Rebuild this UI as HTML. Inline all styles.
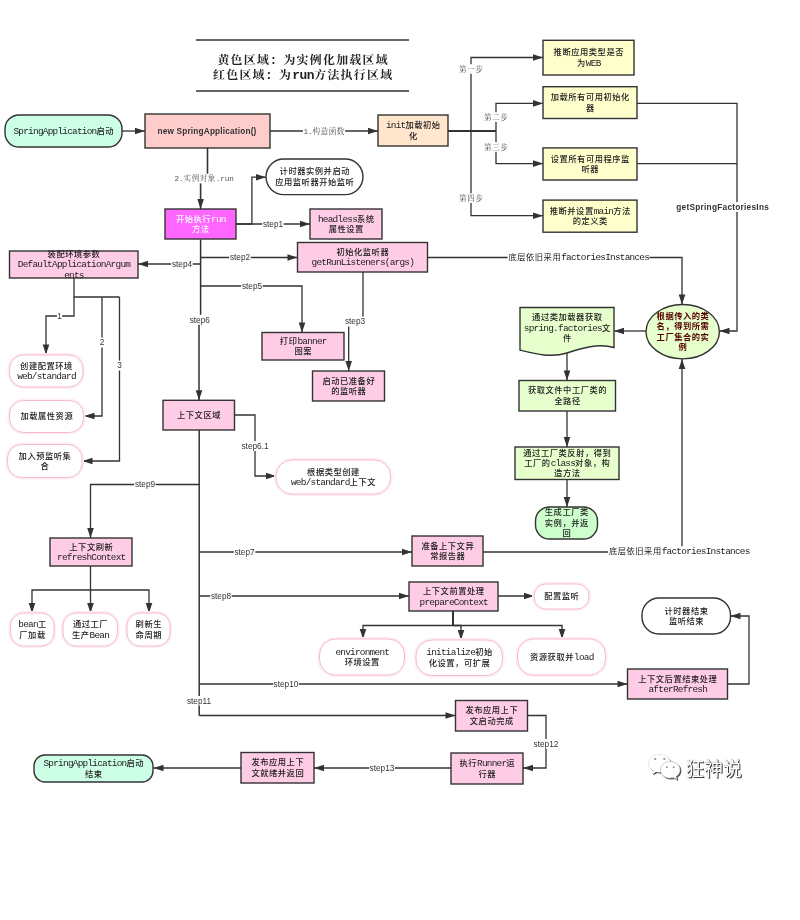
<!DOCTYPE html>
<html lang="zh-CN"><head><meta charset="utf-8"><title>SpringApplication 启动流程</title>
<style>html,body{margin:0;padding:0;background:#fff}svg{display:block;will-change:transform}</style></head>
<body>
<svg width="800" height="920" viewBox="0 0 800 920">
<rect width="800" height="920" fill="#fff"/>
<line x1="196" y1="40" x2="409" y2="40" stroke="#333" stroke-width="1.3"/>
<line x1="196" y1="91" x2="409" y2="91" stroke="#333" stroke-width="1.3"/>
<text x="303.2" y="64.0" text-anchor="middle" font-family='"Liberation Serif", "Noto Serif CJK SC", serif' font-size="11.88" font-weight="700" fill="#222" xml:space="preserve"><tspan letter-spacing="1.32">黄色区域：为实例化加载区域</tspan></text>
<text x="303.2" y="79.0" text-anchor="middle" font-family='"Liberation Serif", "Noto Serif CJK SC", serif' font-size="11.88" font-weight="700" fill="#222" xml:space="preserve"><tspan letter-spacing="1.32">红色区域：为</tspan><tspan font-family='"Liberation Mono", monospace' font-weight="700" font-size="12.94" letter-spacing="-0.42">run</tspan><tspan letter-spacing="1.32">方法执行区域</tspan></text>
<polyline points="199.2,430 199.2,715.5" fill="none" stroke="#333" stroke-width="1.5"/>
<polyline points="122,131 145,131" fill="none" stroke="#333" stroke-width="1.3"/>
<polygon points="145.0,131.0 135.0,134.3 135.0,127.7" fill="#333"/>
<polyline points="270,131 378,131" fill="none" stroke="#333" stroke-width="1.3"/>
<polygon points="378.0,131.0 368.0,134.3 368.0,127.7" fill="#333"/>
<polyline points="207.5,148 207.5,178 200.6,178 200.6,209" fill="none" stroke="#333" stroke-width="1.6"/>
<polygon points="200.6,209.0 197.3,199.0 203.9,199.0" fill="#333"/>
<polyline points="448,131 496,131" fill="none" stroke="#333" stroke-width="2"/>
<polyline points="471,131 471,57.5 543,57.5" fill="none" stroke="#333" stroke-width="1.3"/>
<polygon points="543.0,57.5 533.0,60.8 533.0,54.2" fill="#333"/>
<polyline points="496,131 496,103.4 543,103.4" fill="none" stroke="#333" stroke-width="1.3"/>
<polygon points="543.0,103.4 533.0,106.7 533.0,100.1" fill="#333"/>
<polyline points="496,131 496,163.6 543,163.6" fill="none" stroke="#333" stroke-width="1.3"/>
<polygon points="543.0,163.6 533.0,166.9 533.0,160.3" fill="#333"/>
<polyline points="471,131 471,215.7 543,215.7" fill="none" stroke="#333" stroke-width="1.3"/>
<polygon points="543.0,215.7 533.0,219.0 533.0,212.4" fill="#333"/>
<polyline points="637,103.4 737,103.4 737,331 719.5,331" fill="none" stroke="#333" stroke-width="1.3"/>
<polygon points="719.5,331.0 729.5,327.7 729.5,334.3" fill="#333"/>
<polyline points="637,163.7 737,163.7" fill="none" stroke="#333" stroke-width="1.3"/>
<polyline points="236,224 251.9,224 251.9,177.2 266,177.2" fill="none" stroke="#333" stroke-width="1.3"/>
<polygon points="266.0,177.2 256.0,180.5 256.0,173.9" fill="#333"/>
<polyline points="236,224 310,224" fill="none" stroke="#333" stroke-width="1.3"/>
<polygon points="310.0,224.0 300.0,227.3 300.0,220.7" fill="#333"/>
<polyline points="200.6,257.5 297.5,257.5" fill="none" stroke="#333" stroke-width="1.3"/>
<polygon points="297.5,257.5 287.5,260.8 287.5,254.2" fill="#333"/>
<polyline points="200.6,264 138,264" fill="none" stroke="#333" stroke-width="1.3"/>
<polygon points="138.0,264.0 148.0,260.7 148.0,267.3" fill="#333"/>
<polyline points="200.6,286 302,286 302,332.5" fill="none" stroke="#333" stroke-width="1.3"/>
<polygon points="302.0,332.5 298.7,322.5 305.3,322.5" fill="#333"/>
<polyline points="200.6,239.5 200.6,320 199,320 199,400.2" fill="none" stroke="#333" stroke-width="1.5"/>
<polygon points="199.0,400.2 195.7,390.2 202.3,390.2" fill="#333"/>
<polyline points="199.2,484.5 90.5,484.5 90.5,538" fill="none" stroke="#333" stroke-width="1.3"/>
<polygon points="90.5,538.0 87.2,528.0 93.8,528.0" fill="#333"/>
<polyline points="199.2,552 412,552" fill="none" stroke="#333" stroke-width="1.3"/>
<polygon points="412.0,552.0 402.0,555.3 402.0,548.7" fill="#333"/>
<polyline points="199.2,596 409,596" fill="none" stroke="#333" stroke-width="1.3"/>
<polygon points="409.0,596.0 399.0,599.3 399.0,592.7" fill="#333"/>
<polyline points="199.2,684 627.5,684" fill="none" stroke="#333" stroke-width="1.3"/>
<polygon points="627.5,684.0 617.5,687.3 617.5,680.7" fill="#333"/>
<polyline points="199.2,715.5 455.5,715.5" fill="none" stroke="#333" stroke-width="1.3"/>
<polygon points="455.5,715.5 445.5,718.8 445.5,712.2" fill="#333"/>
<polyline points="427.5,257.5 682,257.5 682,304.5" fill="none" stroke="#333" stroke-width="1.3"/>
<polygon points="682.0,304.5 678.7,294.5 685.3,294.5" fill="#333"/>
<polyline points="363,272 363,321 348.7,321 348.7,371" fill="none" stroke="#333" stroke-width="1.3"/>
<polygon points="348.7,371.0 345.4,361.0 352.0,361.0" fill="#333"/>
<polyline points="74,278 74,297 119.5,297" fill="none" stroke="#333" stroke-width="1.3"/>
<polyline points="74,297 74,316 46,316 46,354.5" fill="none" stroke="#333" stroke-width="1.3"/>
<polygon points="46.0,354.5 42.7,344.5 49.3,344.5" fill="#333"/>
<polyline points="102,297 102,416 84.5,416" fill="none" stroke="#333" stroke-width="1.3"/>
<polygon points="84.5,416.0 94.5,412.7 94.5,419.3" fill="#333"/>
<polyline points="119.5,297 119.5,461 82.5,461" fill="none" stroke="#333" stroke-width="1.3"/>
<polygon points="82.5,461.0 92.5,457.7 92.5,464.3" fill="#333"/>
<polyline points="234,415 255,415 255,476 276,476" fill="none" stroke="#333" stroke-width="1.3"/>
<polygon points="276.0,476.0 266.0,479.3 266.0,472.7" fill="#333"/>
<polyline points="90.5,566 90.5,613" fill="none" stroke="#333" stroke-width="1.3"/>
<polygon points="90.5,613.0 87.2,603.0 93.8,603.0" fill="#333"/>
<polyline points="90.5,590 32,590 32,613" fill="none" stroke="#333" stroke-width="1.3"/>
<polygon points="32.0,613.0 28.7,603.0 35.3,603.0" fill="#333"/>
<polyline points="90.5,590 149,590 149,613" fill="none" stroke="#333" stroke-width="1.3"/>
<polygon points="149.0,613.0 145.7,603.0 152.3,603.0" fill="#333"/>
<polyline points="646,331 614,331" fill="none" stroke="#333" stroke-width="1.3"/>
<polygon points="614.0,331.0 624.0,327.7 624.0,334.3" fill="#333"/>
<polyline points="567,352 567,380.5" fill="none" stroke="#333" stroke-width="1.3"/>
<polygon points="567.0,380.5 563.7,370.5 570.3,370.5" fill="#333"/>
<polyline points="567,411 567,447" fill="none" stroke="#333" stroke-width="1.3"/>
<polygon points="567.0,447.0 563.7,437.0 570.3,437.0" fill="#333"/>
<polyline points="567,479.5 567,507" fill="none" stroke="#333" stroke-width="1.3"/>
<polygon points="567.0,507.0 563.7,497.0 570.3,497.0" fill="#333"/>
<polyline points="483,552 682,552 682,359" fill="none" stroke="#333" stroke-width="1.3"/>
<polygon points="682.0,359.0 685.3,369.0 678.7,369.0" fill="#333"/>
<polyline points="498,596 534,596" fill="none" stroke="#333" stroke-width="1.3"/>
<polygon points="534.0,596.0 524.0,599.3 524.0,592.7" fill="#333"/>
<polyline points="453,611 453,625.5" fill="none" stroke="#333" stroke-width="2"/>
<polyline points="453,625.5 363,625.5 363,639" fill="none" stroke="#333" stroke-width="1.3"/>
<polygon points="363.0,639.0 359.7,629.0 366.3,629.0" fill="#333"/>
<polyline points="453,625.5 461,625.5 461,640" fill="none" stroke="#333" stroke-width="1.3"/>
<polygon points="461.0,640.0 457.7,630.0 464.3,630.0" fill="#333"/>
<polyline points="453,625.5 562,625.5 562,639" fill="none" stroke="#333" stroke-width="1.3"/>
<polygon points="562.0,639.0 558.7,629.0 565.3,629.0" fill="#333"/>
<polyline points="727.5,684 749,684 749,616 730.5,616" fill="none" stroke="#333" stroke-width="1.3"/>
<polygon points="730.5,616.0 740.5,612.7 740.5,619.3" fill="#333"/>
<polyline points="527.5,715.5 546,715.5 546,768 523,768" fill="none" stroke="#333" stroke-width="1.3"/>
<polygon points="523.0,768.0 533.0,764.7 533.0,771.3" fill="#333"/>
<polyline points="451,768 314,768" fill="none" stroke="#333" stroke-width="1.3"/>
<polygon points="314.0,768.0 324.0,764.7 324.0,771.3" fill="#333"/>
<polyline points="241,768 153.5,768" fill="none" stroke="#333" stroke-width="1.3"/>
<polygon points="153.5,768.0 163.5,764.7 163.5,771.3" fill="#333"/>
<rect x="302.9" y="126.2" width="42.3" height="9.7" fill="#fff"/>
<text x="324.2" y="133.5" text-anchor="middle" font-family='"Liberation Serif", "Noto Serif CJK SC", serif' font-size="7.59" font-weight="400" fill="#555" xml:space="preserve"><tspan font-family='"Liberation Mono", monospace' font-weight="400" font-size="7.67" letter-spacing="-0.11">1.</tspan><tspan letter-spacing="0.48">构造函数</tspan></text>
<rect x="173.9" y="173.7" width="60.2" height="9.7" fill="#fff"/>
<text x="204.2" y="181.0" text-anchor="middle" font-family='"Liberation Serif", "Noto Serif CJK SC", serif' font-size="7.59" font-weight="400" fill="#555" xml:space="preserve"><tspan font-family='"Liberation Mono", monospace' font-weight="400" font-size="7.67" letter-spacing="-0.11">2.</tspan><tspan letter-spacing="0.48">实例对象</tspan><tspan font-family='"Liberation Mono", monospace' font-weight="400" font-size="7.67" letter-spacing="-0.11">.run</tspan></text>
<rect x="458.4" y="64.2" width="25.2" height="9.7" fill="#fff"/>
<text x="471.2" y="71.5" text-anchor="middle" font-family='"Liberation Serif", "Noto Serif CJK SC", serif' font-size="7.59" font-weight="400" fill="#555" xml:space="preserve"><tspan letter-spacing="0.48">第一步</tspan></text>
<rect x="483.4" y="112.2" width="25.2" height="9.7" fill="#fff"/>
<text x="496.2" y="119.5" text-anchor="middle" font-family='"Liberation Serif", "Noto Serif CJK SC", serif' font-size="7.59" font-weight="400" fill="#555" xml:space="preserve"><tspan letter-spacing="0.48">第二步</tspan></text>
<rect x="483.4" y="142.2" width="25.2" height="9.7" fill="#fff"/>
<text x="496.2" y="149.5" text-anchor="middle" font-family='"Liberation Serif", "Noto Serif CJK SC", serif' font-size="7.59" font-weight="400" fill="#555" xml:space="preserve"><tspan letter-spacing="0.48">第三步</tspan></text>
<rect x="458.4" y="193.2" width="25.2" height="9.7" fill="#fff"/>
<text x="471.2" y="200.5" text-anchor="middle" font-family='"Liberation Serif", "Noto Serif CJK SC", serif' font-size="7.59" font-weight="400" fill="#555" xml:space="preserve"><tspan letter-spacing="0.48">第四步</tspan></text>
<rect x="507.6" y="252.3" width="141.9" height="10.6" fill="#fff"/>
<text x="578.8" y="260.3" text-anchor="middle" font-family='"Liberation Sans", "Noto Sans CJK SC", sans-serif' font-size="8.27" font-weight="400" fill="#222" xml:space="preserve"><tspan letter-spacing="0.53">底层依旧采用</tspan><tspan font-family='"Liberation Mono", monospace' font-weight="400" font-size="9.42" letter-spacing="-0.76">factoriesInstances</tspan></text>
<rect x="608.1" y="546.3" width="141.9" height="10.6" fill="#fff"/>
<text x="679.3" y="554.3" text-anchor="middle" font-family='"Liberation Sans", "Noto Sans CJK SC", sans-serif' font-size="8.27" font-weight="400" fill="#222" xml:space="preserve"><tspan letter-spacing="0.53">底层依旧采用</tspan><tspan font-family='"Liberation Mono", monospace' font-weight="400" font-size="9.42" letter-spacing="-0.76">factoriesInstances</tspan></text>
<rect x="675.7" y="202.1" width="94.0" height="9.9" fill="#fff"/>
<text x="722.7" y="209.9" text-anchor="middle" font-family='"Liberation Sans", sans-serif' font-size="8.25" font-weight="700" letter-spacing="0.27" fill="#333">getSpringFactoriesIns</text>
<rect x="262.2" y="219.1" width="21.5" height="9.9" fill="#fff"/>
<text x="273.0" y="226.9" text-anchor="middle" font-family='"Liberation Sans", sans-serif' font-size="8.25" font-weight="400" letter-spacing="0" fill="#333">step1</text>
<rect x="229.2" y="252.6" width="21.5" height="9.9" fill="#fff"/>
<text x="240.0" y="260.4" text-anchor="middle" font-family='"Liberation Sans", sans-serif' font-size="8.25" font-weight="400" letter-spacing="0" fill="#333">step2</text>
<rect x="171.2" y="259.1" width="21.5" height="9.9" fill="#fff"/>
<text x="182.0" y="266.9" text-anchor="middle" font-family='"Liberation Sans", sans-serif' font-size="8.25" font-weight="400" letter-spacing="0" fill="#333">step4</text>
<rect x="241.2" y="281.1" width="21.5" height="9.9" fill="#fff"/>
<text x="252.0" y="288.9" text-anchor="middle" font-family='"Liberation Sans", sans-serif' font-size="8.25" font-weight="400" letter-spacing="0" fill="#333">step5</text>
<rect x="189.1" y="314.8" width="21.5" height="9.9" fill="#fff"/>
<text x="199.8" y="322.6" text-anchor="middle" font-family='"Liberation Sans", sans-serif' font-size="8.25" font-weight="400" letter-spacing="0" fill="#333">step6</text>
<rect x="344.2" y="316.6" width="21.5" height="9.9" fill="#fff"/>
<text x="355.0" y="324.4" text-anchor="middle" font-family='"Liberation Sans", sans-serif' font-size="8.25" font-weight="400" letter-spacing="0" fill="#333">step3</text>
<rect x="134.2" y="479.6" width="21.5" height="9.9" fill="#fff"/>
<text x="145.0" y="487.4" text-anchor="middle" font-family='"Liberation Sans", sans-serif' font-size="8.25" font-weight="400" letter-spacing="0" fill="#333">step9</text>
<rect x="233.8" y="547.0" width="21.5" height="9.9" fill="#fff"/>
<text x="244.5" y="554.9" text-anchor="middle" font-family='"Liberation Sans", sans-serif' font-size="8.25" font-weight="400" letter-spacing="0" fill="#333">step7</text>
<rect x="210.2" y="591.0" width="21.5" height="9.9" fill="#fff"/>
<text x="221.0" y="598.9" text-anchor="middle" font-family='"Liberation Sans", sans-serif' font-size="8.25" font-weight="400" letter-spacing="0" fill="#333">step8</text>
<rect x="273.2" y="679.0" width="25.6" height="9.9" fill="#fff"/>
<text x="286.0" y="686.9" text-anchor="middle" font-family='"Liberation Sans", sans-serif' font-size="8.25" font-weight="400" letter-spacing="0" fill="#333">step10</text>
<rect x="186.2" y="696.0" width="25.6" height="9.9" fill="#fff"/>
<text x="199.0" y="703.9" text-anchor="middle" font-family='"Liberation Sans", sans-serif' font-size="8.25" font-weight="400" letter-spacing="0" fill="#333">step11</text>
<rect x="240.2" y="441.1" width="29.7" height="9.9" fill="#fff"/>
<text x="255.0" y="448.9" text-anchor="middle" font-family='"Liberation Sans", sans-serif' font-size="8.25" font-weight="400" letter-spacing="0" fill="#333">step6.1</text>
<rect x="533.2" y="739.0" width="25.6" height="9.9" fill="#fff"/>
<text x="546.0" y="746.9" text-anchor="middle" font-family='"Liberation Sans", sans-serif' font-size="8.25" font-weight="400" letter-spacing="0" fill="#333">step12</text>
<rect x="369.2" y="763.0" width="25.6" height="9.9" fill="#fff"/>
<text x="382.0" y="770.9" text-anchor="middle" font-family='"Liberation Sans", sans-serif' font-size="8.25" font-weight="400" letter-spacing="0" fill="#333">step13</text>
<rect x="57.0" y="311.1" width="5.1" height="9.9" fill="#fff"/>
<text x="59.5" y="318.9" text-anchor="middle" font-family='"Liberation Sans", sans-serif' font-size="8.25" font-weight="400" letter-spacing="0" fill="#333">1</text>
<rect x="99.5" y="337.6" width="5.1" height="9.9" fill="#fff"/>
<text x="102.0" y="345.4" text-anchor="middle" font-family='"Liberation Sans", sans-serif' font-size="8.25" font-weight="400" letter-spacing="0" fill="#333">2</text>
<rect x="117.0" y="360.6" width="5.1" height="9.9" fill="#fff"/>
<text x="119.5" y="368.4" text-anchor="middle" font-family='"Liberation Sans", sans-serif' font-size="8.25" font-weight="400" letter-spacing="0" fill="#333">3</text>
<rect x="5" y="115" width="117.0" height="32.0" rx="14" fill="#ccffe6" stroke="#333" stroke-width="1.4"/>
<text x="63.8" y="133.8" text-anchor="middle" font-family='"Liberation Sans", "Noto Sans CJK SC", sans-serif' font-size="8.27" font-weight="500" fill="#222" xml:space="preserve"><tspan font-family='"Liberation Mono", monospace' font-weight="400" font-size="9.42" letter-spacing="-0.76">SpringApplication</tspan><tspan letter-spacing="0.53">启动</tspan></text>
<rect x="145" y="114" width="125.0" height="34.0" rx="0" fill="#ffcccc" stroke="#333" stroke-width="1.4"/>
<text x="207.0" y="133.9" text-anchor="middle" font-family='"Liberation Sans", sans-serif' font-size="8.25" font-weight="700" letter-spacing="0.18" fill="#333">new SpringApplication()</text>
<rect x="378" y="115" width="70.0" height="31.0" rx="0" fill="#ffe6cc" stroke="#333" stroke-width="1.4"/>
<text x="413.3" y="128.1" text-anchor="middle" font-family='"Liberation Sans", "Noto Sans CJK SC", sans-serif' font-size="8.27" font-weight="500" fill="#222" xml:space="preserve"><tspan font-family='"Liberation Mono", monospace' font-weight="400" font-size="9.42" letter-spacing="-0.76">init</tspan><tspan letter-spacing="0.53">加载初始</tspan></text>
<text x="413.3" y="138.5" text-anchor="middle" font-family='"Liberation Sans", "Noto Sans CJK SC", sans-serif' font-size="8.27" font-weight="500" fill="#222" xml:space="preserve"><tspan letter-spacing="0.53">化</tspan></text>
<rect x="543" y="40.3" width="91.0" height="34.7" rx="0" fill="#ffffcc" stroke="#333" stroke-width="1.4"/>
<text x="588.8" y="55.2" text-anchor="middle" font-family='"Liberation Sans", "Noto Sans CJK SC", sans-serif' font-size="8.27" font-weight="500" fill="#222" xml:space="preserve"><tspan letter-spacing="0.53">推断应用类型是否</tspan></text>
<text x="588.8" y="65.6" text-anchor="middle" font-family='"Liberation Sans", "Noto Sans CJK SC", sans-serif' font-size="8.27" font-weight="500" fill="#222" xml:space="preserve"><tspan letter-spacing="0.53">为</tspan><tspan font-family='"Liberation Mono", monospace' font-weight="400" font-size="9.42" letter-spacing="-0.76">WEB</tspan></text>
<rect x="543" y="86.7" width="94.0" height="31.8" rx="0" fill="#ffffcc" stroke="#333" stroke-width="1.4"/>
<text x="590.3" y="100.2" text-anchor="middle" font-family='"Liberation Sans", "Noto Sans CJK SC", sans-serif' font-size="8.27" font-weight="500" fill="#222" xml:space="preserve"><tspan letter-spacing="0.53">加载所有可用初始化</tspan></text>
<text x="590.3" y="110.6" text-anchor="middle" font-family='"Liberation Sans", "Noto Sans CJK SC", sans-serif' font-size="8.27" font-weight="500" fill="#222" xml:space="preserve"><tspan letter-spacing="0.53">器</tspan></text>
<rect x="543" y="147.9" width="94.0" height="32.1" rx="0" fill="#ffffcc" stroke="#333" stroke-width="1.4"/>
<text x="590.3" y="161.5" text-anchor="middle" font-family='"Liberation Sans", "Noto Sans CJK SC", sans-serif' font-size="8.27" font-weight="500" fill="#222" xml:space="preserve"><tspan letter-spacing="0.53">设置所有可用程序监</tspan></text>
<text x="590.3" y="171.9" text-anchor="middle" font-family='"Liberation Sans", "Noto Sans CJK SC", sans-serif' font-size="8.27" font-weight="500" fill="#222" xml:space="preserve"><tspan letter-spacing="0.53">听器</tspan></text>
<rect x="543" y="200.1" width="94.0" height="32.1" rx="0" fill="#ffffcc" stroke="#333" stroke-width="1.4"/>
<text x="590.3" y="213.7" text-anchor="middle" font-family='"Liberation Sans", "Noto Sans CJK SC", sans-serif' font-size="8.27" font-weight="500" fill="#222" xml:space="preserve"><tspan letter-spacing="0.53">推断并设置</tspan><tspan font-family='"Liberation Mono", monospace' font-weight="400" font-size="9.42" letter-spacing="-0.76">main</tspan><tspan letter-spacing="0.53">方法</tspan></text>
<text x="590.3" y="224.1" text-anchor="middle" font-family='"Liberation Sans", "Noto Sans CJK SC", sans-serif' font-size="8.27" font-weight="500" fill="#222" xml:space="preserve"><tspan letter-spacing="0.53">的定义类</tspan></text>
<rect x="266" y="159" width="97.0" height="35.6" rx="17.8" fill="#fff" stroke="#333" stroke-width="1.4"/>
<text x="314.8" y="174.4" text-anchor="middle" font-family='"Liberation Sans", "Noto Sans CJK SC", sans-serif' font-size="8.27" font-weight="500" fill="#222" xml:space="preserve"><tspan letter-spacing="0.53">计时器实例并启动</tspan></text>
<text x="314.8" y="184.8" text-anchor="middle" font-family='"Liberation Sans", "Noto Sans CJK SC", sans-serif' font-size="8.27" font-weight="500" fill="#222" xml:space="preserve"><tspan letter-spacing="0.53">应用监听器开始监听</tspan></text>
<rect x="165" y="209" width="71.0" height="30.0" rx="0" fill="#ff66ff" stroke="#333" stroke-width="1.4"/>
<text x="200.8" y="221.6" text-anchor="middle" font-family='"Liberation Sans", "Noto Sans CJK SC", sans-serif' font-size="8.27" font-weight="500" fill="#fff" xml:space="preserve"><tspan letter-spacing="0.53">开始执行</tspan><tspan font-family='"Liberation Mono", monospace' font-weight="400" font-size="9.42" letter-spacing="-0.76">run</tspan></text>
<text x="200.8" y="232.0" text-anchor="middle" font-family='"Liberation Sans", "Noto Sans CJK SC", sans-serif' font-size="8.27" font-weight="500" fill="#fff" xml:space="preserve"><tspan letter-spacing="0.53">方法</tspan></text>
<rect x="310" y="209" width="72.0" height="30.0" rx="0" fill="#ffcce6" stroke="#333" stroke-width="1.4"/>
<text x="346.3" y="221.6" text-anchor="middle" font-family='"Liberation Sans", "Noto Sans CJK SC", sans-serif' font-size="8.27" font-weight="500" fill="#222" xml:space="preserve"><tspan font-family='"Liberation Mono", monospace' font-weight="400" font-size="9.42" letter-spacing="-0.76">headless</tspan><tspan letter-spacing="0.53">系统</tspan></text>
<text x="346.3" y="232.0" text-anchor="middle" font-family='"Liberation Sans", "Noto Sans CJK SC", sans-serif' font-size="8.27" font-weight="500" fill="#222" xml:space="preserve"><tspan letter-spacing="0.53">属性设置</tspan></text>
<rect x="297.5" y="242.5" width="130.0" height="29.5" rx="0" fill="#ffcce6" stroke="#333" stroke-width="1.4"/>
<text x="362.8" y="254.8" text-anchor="middle" font-family='"Liberation Sans", "Noto Sans CJK SC", sans-serif' font-size="8.27" font-weight="500" fill="#222" xml:space="preserve"><tspan letter-spacing="0.53">初始化监听器</tspan></text>
<text x="362.8" y="265.2" text-anchor="middle" font-family='"Liberation Sans", "Noto Sans CJK SC", sans-serif' font-size="8.27" font-weight="500" fill="#222" xml:space="preserve"><tspan font-family='"Liberation Mono", monospace' font-weight="400" font-size="9.42" letter-spacing="-0.76">getRunListeners(args)</tspan></text>
<rect x="9.5" y="251" width="128.5" height="27.0" rx="0" fill="#ffcce6" stroke="#333" stroke-width="1.4"/>
<text x="74.0" y="256.9" text-anchor="middle" font-family='"Liberation Sans", "Noto Sans CJK SC", sans-serif' font-size="8.27" font-weight="500" fill="#222" xml:space="preserve"><tspan letter-spacing="0.53">装配环境参数</tspan></text>
<text x="74.0" y="267.3" text-anchor="middle" font-family='"Liberation Sans", "Noto Sans CJK SC", sans-serif' font-size="8.27" font-weight="500" fill="#222" xml:space="preserve"><tspan font-family='"Liberation Mono", monospace' font-weight="400" font-size="9.42" letter-spacing="-0.76">DefaultApplicationArgum</tspan></text>
<text x="74.0" y="277.7" text-anchor="middle" font-family='"Liberation Sans", "Noto Sans CJK SC", sans-serif' font-size="8.27" font-weight="500" fill="#222" xml:space="preserve"><tspan font-family='"Liberation Mono", monospace' font-weight="400" font-size="9.42" letter-spacing="-0.76">ents</tspan></text>
<rect x="262" y="332.5" width="82.0" height="27.5" rx="0" fill="#ffcce6" stroke="#333" stroke-width="1.4"/>
<text x="303.3" y="343.8" text-anchor="middle" font-family='"Liberation Sans", "Noto Sans CJK SC", sans-serif' font-size="8.27" font-weight="500" fill="#222" xml:space="preserve"><tspan letter-spacing="0.53">打印</tspan><tspan font-family='"Liberation Mono", monospace' font-weight="400" font-size="9.42" letter-spacing="-0.76">banner</tspan></text>
<text x="303.3" y="354.2" text-anchor="middle" font-family='"Liberation Sans", "Noto Sans CJK SC", sans-serif' font-size="8.27" font-weight="500" fill="#222" xml:space="preserve"><tspan letter-spacing="0.53">图案</tspan></text>
<rect x="312.5" y="371" width="72.0" height="30.0" rx="0" fill="#ffcce6" stroke="#333" stroke-width="1.4"/>
<text x="348.8" y="383.6" text-anchor="middle" font-family='"Liberation Sans", "Noto Sans CJK SC", sans-serif' font-size="8.27" font-weight="500" fill="#222" xml:space="preserve"><tspan letter-spacing="0.53">启动已准备好</tspan></text>
<text x="348.8" y="394.0" text-anchor="middle" font-family='"Liberation Sans", "Noto Sans CJK SC", sans-serif' font-size="8.27" font-weight="500" fill="#222" xml:space="preserve"><tspan letter-spacing="0.53">的监听器</tspan></text>
<rect x="163" y="400.3" width="71.5" height="29.7" rx="0" fill="#ffcce6" stroke="#333" stroke-width="1.4"/>
<text x="199.0" y="417.9" text-anchor="middle" font-family='"Liberation Sans", "Noto Sans CJK SC", sans-serif' font-size="8.27" font-weight="500" fill="#222" xml:space="preserve"><tspan letter-spacing="0.53">上下文区域</tspan></text>
<rect x="8.5" y="354" width="75.5" height="34.0" rx="15" fill="none" stroke="#fdeef4" stroke-width="2"/>
<rect x="9.5" y="355" width="73.5" height="32.0" rx="14" fill="#fff" stroke="#f7b9d0" stroke-width="1"/>
<text x="46.5" y="368.6" text-anchor="middle" font-family='"Liberation Sans", "Noto Sans CJK SC", sans-serif' font-size="8.27" font-weight="500" fill="#222" xml:space="preserve"><tspan letter-spacing="0.53">创建配置环境</tspan></text>
<text x="46.5" y="379.0" text-anchor="middle" font-family='"Liberation Sans", "Noto Sans CJK SC", sans-serif' font-size="8.27" font-weight="500" fill="#222" xml:space="preserve"><tspan font-family='"Liberation Mono", monospace' font-weight="400" font-size="9.42" letter-spacing="-0.76">web/standard</tspan></text>
<rect x="8.5" y="399.5" width="76.0" height="34.0" rx="15" fill="none" stroke="#fdeef4" stroke-width="2"/>
<rect x="9.5" y="400.5" width="74.0" height="32.0" rx="14" fill="#fff" stroke="#f7b9d0" stroke-width="1"/>
<text x="46.8" y="419.3" text-anchor="middle" font-family='"Liberation Sans", "Noto Sans CJK SC", sans-serif' font-size="8.27" font-weight="500" fill="#222" xml:space="preserve"><tspan letter-spacing="0.53">加载属性资源</tspan></text>
<rect x="6.5" y="443.5" width="76.5" height="35.0" rx="15" fill="none" stroke="#fdeef4" stroke-width="2"/>
<rect x="7.5" y="444.5" width="74.5" height="33.0" rx="14" fill="#fff" stroke="#f7b9d0" stroke-width="1"/>
<text x="45.0" y="458.6" text-anchor="middle" font-family='"Liberation Sans", "Noto Sans CJK SC", sans-serif' font-size="8.27" font-weight="500" fill="#222" xml:space="preserve"><tspan letter-spacing="0.53">加入预监听集</tspan></text>
<text x="45.0" y="469.0" text-anchor="middle" font-family='"Liberation Sans", "Noto Sans CJK SC", sans-serif' font-size="8.27" font-weight="500" fill="#222" xml:space="preserve"><tspan letter-spacing="0.53">合</tspan></text>
<rect x="275" y="459" width="116.5" height="36.0" rx="17" fill="none" stroke="#fdeef4" stroke-width="2"/>
<rect x="276" y="460" width="114.5" height="34.0" rx="16" fill="#fff" stroke="#f7b9d0" stroke-width="1"/>
<text x="333.5" y="474.6" text-anchor="middle" font-family='"Liberation Sans", "Noto Sans CJK SC", sans-serif' font-size="8.27" font-weight="500" fill="#222" xml:space="preserve"><tspan letter-spacing="0.53">根据类型创建</tspan></text>
<text x="333.5" y="485.0" text-anchor="middle" font-family='"Liberation Sans", "Noto Sans CJK SC", sans-serif' font-size="8.27" font-weight="500" fill="#222" xml:space="preserve"><tspan font-family='"Liberation Mono", monospace' font-weight="400" font-size="9.42" letter-spacing="-0.76">web/standard</tspan><tspan letter-spacing="0.53">上下文</tspan></text>
<rect x="50" y="538" width="82.0" height="28.0" rx="0" fill="#ffcce6" stroke="#333" stroke-width="1.4"/>
<text x="91.3" y="549.6" text-anchor="middle" font-family='"Liberation Sans", "Noto Sans CJK SC", sans-serif' font-size="8.27" font-weight="500" fill="#222" xml:space="preserve"><tspan letter-spacing="0.53">上下文刷新</tspan></text>
<text x="91.3" y="560.0" text-anchor="middle" font-family='"Liberation Sans", "Noto Sans CJK SC", sans-serif' font-size="8.27" font-weight="500" fill="#222" xml:space="preserve"><tspan font-family='"Liberation Mono", monospace' font-weight="400" font-size="9.42" letter-spacing="-0.76">refreshContext</tspan></text>
<rect x="9.5" y="612" width="45.5" height="35.0" rx="14" fill="none" stroke="#fdeef4" stroke-width="2"/>
<rect x="10.5" y="613" width="43.5" height="33.0" rx="13" fill="#fff" stroke="#f7b9d0" stroke-width="1"/>
<text x="32.5" y="627.1" text-anchor="middle" font-family='"Liberation Sans", "Noto Sans CJK SC", sans-serif' font-size="8.27" font-weight="500" fill="#222" xml:space="preserve"><tspan font-family='"Liberation Mono", monospace' font-weight="400" font-size="9.42" letter-spacing="-0.76">bean</tspan><tspan letter-spacing="0.53">工</tspan></text>
<text x="32.5" y="637.5" text-anchor="middle" font-family='"Liberation Sans", "Noto Sans CJK SC", sans-serif' font-size="8.27" font-weight="500" fill="#222" xml:space="preserve"><tspan letter-spacing="0.53">厂加载</tspan></text>
<rect x="62" y="612" width="56.5" height="35.0" rx="14" fill="none" stroke="#fdeef4" stroke-width="2"/>
<rect x="63" y="613" width="54.5" height="33.0" rx="13" fill="#fff" stroke="#f7b9d0" stroke-width="1"/>
<text x="90.5" y="627.1" text-anchor="middle" font-family='"Liberation Sans", "Noto Sans CJK SC", sans-serif' font-size="8.27" font-weight="500" fill="#222" xml:space="preserve"><tspan letter-spacing="0.53">通过工厂</tspan></text>
<text x="90.5" y="637.5" text-anchor="middle" font-family='"Liberation Sans", "Noto Sans CJK SC", sans-serif' font-size="8.27" font-weight="500" fill="#222" xml:space="preserve"><tspan letter-spacing="0.53">生产</tspan><tspan font-family='"Liberation Mono", monospace' font-weight="400" font-size="9.42" letter-spacing="-0.76">Bean</tspan></text>
<rect x="126" y="612" width="45.0" height="35.0" rx="14" fill="none" stroke="#fdeef4" stroke-width="2"/>
<rect x="127" y="613" width="43.0" height="33.0" rx="13" fill="#fff" stroke="#f7b9d0" stroke-width="1"/>
<text x="148.8" y="627.1" text-anchor="middle" font-family='"Liberation Sans", "Noto Sans CJK SC", sans-serif' font-size="8.27" font-weight="500" fill="#222" xml:space="preserve"><tspan letter-spacing="0.53">刷新生</tspan></text>
<text x="148.8" y="637.5" text-anchor="middle" font-family='"Liberation Sans", "Noto Sans CJK SC", sans-serif' font-size="8.27" font-weight="500" fill="#222" xml:space="preserve"><tspan letter-spacing="0.53">命周期</tspan></text>
<path d="M520,307.5 H614 V347.5 C598,343 582,348 567,353 C551,358 536,354 520,350 Z" fill="#e6ffcc" stroke="#333" stroke-width="1.4"/>
<text x="567.3" y="320.4" text-anchor="middle" font-family='"Liberation Sans", "Noto Sans CJK SC", sans-serif' font-size="8.27" font-weight="500" fill="#222" xml:space="preserve"><tspan letter-spacing="0.53">通过类加载器获取</tspan></text>
<text x="567.3" y="330.8" text-anchor="middle" font-family='"Liberation Sans", "Noto Sans CJK SC", sans-serif' font-size="8.27" font-weight="500" fill="#222" xml:space="preserve"><tspan font-family='"Liberation Mono", monospace' font-weight="400" font-size="9.42" letter-spacing="-0.76">spring.factories</tspan><tspan letter-spacing="0.53">文</tspan></text>
<text x="567.3" y="341.2" text-anchor="middle" font-family='"Liberation Sans", "Noto Sans CJK SC", sans-serif' font-size="8.27" font-weight="500" fill="#222" xml:space="preserve"><tspan letter-spacing="0.53">件</tspan></text>
<ellipse cx="682.7" cy="331.7" rx="36.7" ry="27.2" fill="#e6ffcc" stroke="#333" stroke-width="1.4"/>
<text x="683.0" y="318.9" text-anchor="middle" font-family='"Liberation Sans", "Noto Sans CJK SC", sans-serif' font-size="8.27" font-weight="700" fill="#550000" xml:space="preserve"><tspan letter-spacing="0.53">根据传入的类</tspan></text>
<text x="683.0" y="329.3" text-anchor="middle" font-family='"Liberation Sans", "Noto Sans CJK SC", sans-serif' font-size="8.27" font-weight="700" fill="#550000" xml:space="preserve"><tspan letter-spacing="0.53">名，得到所需</tspan></text>
<text x="683.0" y="339.7" text-anchor="middle" font-family='"Liberation Sans", "Noto Sans CJK SC", sans-serif' font-size="8.27" font-weight="700" fill="#550000" xml:space="preserve"><tspan letter-spacing="0.53">工厂集合的实</tspan></text>
<text x="683.0" y="350.1" text-anchor="middle" font-family='"Liberation Sans", "Noto Sans CJK SC", sans-serif' font-size="8.27" font-weight="700" fill="#550000" xml:space="preserve"><tspan letter-spacing="0.53">例</tspan></text>
<rect x="519" y="380.5" width="96.5" height="30.5" rx="0" fill="#e6ffcc" stroke="#333" stroke-width="1.4"/>
<text x="567.5" y="393.3" text-anchor="middle" font-family='"Liberation Sans", "Noto Sans CJK SC", sans-serif' font-size="8.27" font-weight="500" fill="#222" xml:space="preserve"><tspan letter-spacing="0.53">获取文件中工厂类的</tspan></text>
<text x="567.5" y="403.7" text-anchor="middle" font-family='"Liberation Sans", "Noto Sans CJK SC", sans-serif' font-size="8.27" font-weight="500" fill="#222" xml:space="preserve"><tspan letter-spacing="0.53">全路径</tspan></text>
<rect x="515" y="447" width="104.0" height="32.5" rx="0" fill="#e6ffcc" stroke="#333" stroke-width="1.4"/>
<text x="567.3" y="455.6" text-anchor="middle" font-family='"Liberation Sans", "Noto Sans CJK SC", sans-serif' font-size="8.27" font-weight="500" fill="#222" xml:space="preserve"><tspan letter-spacing="0.53">通过工厂类反射，得到</tspan></text>
<text x="567.3" y="466.0" text-anchor="middle" font-family='"Liberation Sans", "Noto Sans CJK SC", sans-serif' font-size="8.27" font-weight="500" fill="#222" xml:space="preserve"><tspan letter-spacing="0.53">工厂的</tspan><tspan font-family='"Liberation Mono", monospace' font-weight="400" font-size="9.42" letter-spacing="-0.76">class</tspan><tspan letter-spacing="0.53">对象，构</tspan></text>
<text x="567.3" y="476.4" text-anchor="middle" font-family='"Liberation Sans", "Noto Sans CJK SC", sans-serif' font-size="8.27" font-weight="500" fill="#222" xml:space="preserve"><tspan letter-spacing="0.53">造方法</tspan></text>
<rect x="535.5" y="507" width="62.0" height="32.0" rx="14" fill="#ccffcc" stroke="#333" stroke-width="1.4"/>
<text x="566.8" y="515.4" text-anchor="middle" font-family='"Liberation Sans", "Noto Sans CJK SC", sans-serif' font-size="8.27" font-weight="500" fill="#222" xml:space="preserve"><tspan letter-spacing="0.53">生成工厂类</tspan></text>
<text x="566.8" y="525.8" text-anchor="middle" font-family='"Liberation Sans", "Noto Sans CJK SC", sans-serif' font-size="8.27" font-weight="500" fill="#222" xml:space="preserve"><tspan letter-spacing="0.53">实例，并返</tspan></text>
<text x="566.8" y="536.2" text-anchor="middle" font-family='"Liberation Sans", "Noto Sans CJK SC", sans-serif' font-size="8.27" font-weight="500" fill="#222" xml:space="preserve"><tspan letter-spacing="0.53">回</tspan></text>
<rect x="412" y="536" width="71.0" height="30.0" rx="0" fill="#ffcce6" stroke="#333" stroke-width="1.4"/>
<text x="447.8" y="548.6" text-anchor="middle" font-family='"Liberation Sans", "Noto Sans CJK SC", sans-serif' font-size="8.27" font-weight="500" fill="#222" xml:space="preserve"><tspan letter-spacing="0.53">准备上下文异</tspan></text>
<text x="447.8" y="559.0" text-anchor="middle" font-family='"Liberation Sans", "Noto Sans CJK SC", sans-serif' font-size="8.27" font-weight="500" fill="#222" xml:space="preserve"><tspan letter-spacing="0.53">常报告器</tspan></text>
<rect x="409" y="582" width="89.0" height="29.0" rx="0" fill="#ffcce6" stroke="#333" stroke-width="1.4"/>
<text x="453.8" y="594.1" text-anchor="middle" font-family='"Liberation Sans", "Noto Sans CJK SC", sans-serif' font-size="8.27" font-weight="500" fill="#222" xml:space="preserve"><tspan letter-spacing="0.53">上下文前置处理</tspan></text>
<text x="453.8" y="604.5" text-anchor="middle" font-family='"Liberation Sans", "Noto Sans CJK SC", sans-serif' font-size="8.27" font-weight="500" fill="#222" xml:space="preserve"><tspan font-family='"Liberation Mono", monospace' font-weight="400" font-size="9.42" letter-spacing="-0.76">prepareContext</tspan></text>
<rect x="533" y="583" width="57.0" height="27.0" rx="13" fill="none" stroke="#fdeef4" stroke-width="2"/>
<rect x="534" y="584" width="55.0" height="25.0" rx="12" fill="#fff" stroke="#f7b9d0" stroke-width="1"/>
<text x="561.8" y="599.3" text-anchor="middle" font-family='"Liberation Sans", "Noto Sans CJK SC", sans-serif' font-size="8.27" font-weight="500" fill="#222" xml:space="preserve"><tspan letter-spacing="0.53">配置监听</tspan></text>
<rect x="318.5" y="638" width="87.0" height="38.0" rx="17" fill="none" stroke="#fdeef4" stroke-width="2"/>
<rect x="319.5" y="639" width="85.0" height="36.0" rx="16" fill="#fff" stroke="#f7b9d0" stroke-width="1"/>
<text x="362.3" y="654.6" text-anchor="middle" font-family='"Liberation Sans", "Noto Sans CJK SC", sans-serif' font-size="8.27" font-weight="500" fill="#222" xml:space="preserve"><tspan font-family='"Liberation Mono", monospace' font-weight="400" font-size="9.42" letter-spacing="-0.76">environment</tspan></text>
<text x="362.3" y="665.0" text-anchor="middle" font-family='"Liberation Sans", "Noto Sans CJK SC", sans-serif' font-size="8.27" font-weight="500" fill="#222" xml:space="preserve"><tspan letter-spacing="0.53">环境设置</tspan></text>
<rect x="415" y="639" width="88.5" height="37.5" rx="17" fill="none" stroke="#fdeef4" stroke-width="2"/>
<rect x="416" y="640" width="86.5" height="35.5" rx="16" fill="#fff" stroke="#f7b9d0" stroke-width="1"/>
<text x="459.5" y="655.3" text-anchor="middle" font-family='"Liberation Sans", "Noto Sans CJK SC", sans-serif' font-size="8.27" font-weight="500" fill="#222" xml:space="preserve"><tspan font-family='"Liberation Mono", monospace' font-weight="400" font-size="9.42" letter-spacing="-0.76">initialize</tspan><tspan letter-spacing="0.53">初始</tspan></text>
<text x="459.5" y="665.7" text-anchor="middle" font-family='"Liberation Sans", "Noto Sans CJK SC", sans-serif' font-size="8.27" font-weight="500" fill="#222" xml:space="preserve"><tspan letter-spacing="0.53">化设置，可扩展</tspan></text>
<rect x="516.5" y="638" width="90.0" height="38.0" rx="17" fill="none" stroke="#fdeef4" stroke-width="2"/>
<rect x="517.5" y="639" width="88.0" height="36.0" rx="16" fill="#fff" stroke="#f7b9d0" stroke-width="1"/>
<text x="561.8" y="659.8" text-anchor="middle" font-family='"Liberation Sans", "Noto Sans CJK SC", sans-serif' font-size="8.27" font-weight="500" fill="#222" xml:space="preserve"><tspan letter-spacing="0.53">资源获取并</tspan><tspan font-family='"Liberation Mono", monospace' font-weight="400" font-size="9.42" letter-spacing="-0.76">load</tspan></text>
<rect x="642" y="598" width="88.5" height="36.0" rx="17" fill="#fff" stroke="#333" stroke-width="1.4"/>
<text x="686.5" y="613.6" text-anchor="middle" font-family='"Liberation Sans", "Noto Sans CJK SC", sans-serif' font-size="8.27" font-weight="500" fill="#222" xml:space="preserve"><tspan letter-spacing="0.53">计时器结束</tspan></text>
<text x="686.5" y="624.0" text-anchor="middle" font-family='"Liberation Sans", "Noto Sans CJK SC", sans-serif' font-size="8.27" font-weight="500" fill="#222" xml:space="preserve"><tspan letter-spacing="0.53">监听结束</tspan></text>
<rect x="627.5" y="669" width="100.0" height="30.0" rx="0" fill="#ffcce6" stroke="#333" stroke-width="1.4"/>
<text x="677.8" y="681.6" text-anchor="middle" font-family='"Liberation Sans", "Noto Sans CJK SC", sans-serif' font-size="8.27" font-weight="500" fill="#222" xml:space="preserve"><tspan letter-spacing="0.53">上下文后置结束处理</tspan></text>
<text x="677.8" y="692.0" text-anchor="middle" font-family='"Liberation Sans", "Noto Sans CJK SC", sans-serif' font-size="8.27" font-weight="500" fill="#222" xml:space="preserve"><tspan font-family='"Liberation Mono", monospace' font-weight="400" font-size="9.42" letter-spacing="-0.76">afterRefresh</tspan></text>
<rect x="455.5" y="700.5" width="72.0" height="30.5" rx="0" fill="#ffcce6" stroke="#333" stroke-width="1.4"/>
<text x="491.8" y="713.3" text-anchor="middle" font-family='"Liberation Sans", "Noto Sans CJK SC", sans-serif' font-size="8.27" font-weight="500" fill="#222" xml:space="preserve"><tspan letter-spacing="0.53">发布应用上下</tspan></text>
<text x="491.8" y="723.7" text-anchor="middle" font-family='"Liberation Sans", "Noto Sans CJK SC", sans-serif' font-size="8.27" font-weight="500" fill="#222" xml:space="preserve"><tspan letter-spacing="0.53">文启动完成</tspan></text>
<rect x="451" y="753" width="72.0" height="31.0" rx="0" fill="#ffcce6" stroke="#333" stroke-width="1.4"/>
<text x="487.3" y="766.1" text-anchor="middle" font-family='"Liberation Sans", "Noto Sans CJK SC", sans-serif' font-size="8.27" font-weight="500" fill="#222" xml:space="preserve"><tspan letter-spacing="0.53">执行</tspan><tspan font-family='"Liberation Mono", monospace' font-weight="400" font-size="9.42" letter-spacing="-0.76">Runner</tspan><tspan letter-spacing="0.53">运</tspan></text>
<text x="487.3" y="776.5" text-anchor="middle" font-family='"Liberation Sans", "Noto Sans CJK SC", sans-serif' font-size="8.27" font-weight="500" fill="#222" xml:space="preserve"><tspan letter-spacing="0.53">行器</tspan></text>
<rect x="241" y="752.5" width="73.0" height="30.5" rx="0" fill="#ffcce6" stroke="#333" stroke-width="1.4"/>
<text x="277.8" y="765.3" text-anchor="middle" font-family='"Liberation Sans", "Noto Sans CJK SC", sans-serif' font-size="8.27" font-weight="500" fill="#222" xml:space="preserve"><tspan letter-spacing="0.53">发布应用上下</tspan></text>
<text x="277.8" y="775.7" text-anchor="middle" font-family='"Liberation Sans", "Noto Sans CJK SC", sans-serif' font-size="8.27" font-weight="500" fill="#222" xml:space="preserve"><tspan letter-spacing="0.53">文就绪并返回</tspan></text>
<rect x="34" y="755" width="119.0" height="27.0" rx="11" fill="#ccffe6" stroke="#333" stroke-width="1.4"/>
<text x="93.8" y="766.1" text-anchor="middle" font-family='"Liberation Sans", "Noto Sans CJK SC", sans-serif' font-size="8.27" font-weight="500" fill="#222" xml:space="preserve"><tspan font-family='"Liberation Mono", monospace' font-weight="400" font-size="9.42" letter-spacing="-0.76">SpringApplication</tspan><tspan letter-spacing="0.53">启动</tspan></text>
<text x="93.8" y="776.5" text-anchor="middle" font-family='"Liberation Sans", "Noto Sans CJK SC", sans-serif' font-size="8.27" font-weight="500" fill="#222" xml:space="preserve"><tspan letter-spacing="0.53">结束</tspan></text>
<g style="filter:drop-shadow(1px 1px 0.6px #444) drop-shadow(0 0 0.6px #999)" fill="#fff"><path d="M659.6,754.6 c6.3,0 11.3,4 11.3,9 c0,5 -5,9 -11.3,9 c-1.3,0 -2.5,-0.2 -3.6,-0.5 l-3.6,2.2 l0.9,-3.3 c-3,-1.600 -5,-4.3 -5,-7.400 c0,-5 5,-9 11.300,-9z"/></g>
<g style="filter:drop-shadow(1px 1px 0.6px #444) drop-shadow(0 0 0.6px #999)" fill="#fff" stroke="#c8c8c8" stroke-width="0.5"><path d="M670.3,761.6 c5.400,0 9.700,3.700 9.700,8.300 c0,2.700 -1.500,5.100 -3.900,6.600 l0.800,2.900 l-3.300,-1.800 c-1,0.300 -2.100,0.500 -3.300,0.500 c-5.400,0 -9.700,-3.700 -9.700,-8.300 c0,-4.600 4.300,-8.200 9.700,-8.200z"/></g>
<g fill="#8a8a8a"><circle cx="655.2" cy="759" r="1.1"/><circle cx="664.3" cy="759" r="1.1"/><circle cx="666.900" cy="767.2" r="0.95"/><circle cx="673.7" cy="767.2" r="0.95"/></g>
<text x="685.5" y="775.5" font-family='"Liberation Sans", "Noto Sans CJK SC", sans-serif' font-size="18.8" font-weight="400" fill="#fff" style="text-shadow:1px 1px 0.6px #3a3a3a, 0.4px 0.4px 0.4px #555, 0 0 1.2px #aaa">狂神说</text>
</svg>
</body></html>
